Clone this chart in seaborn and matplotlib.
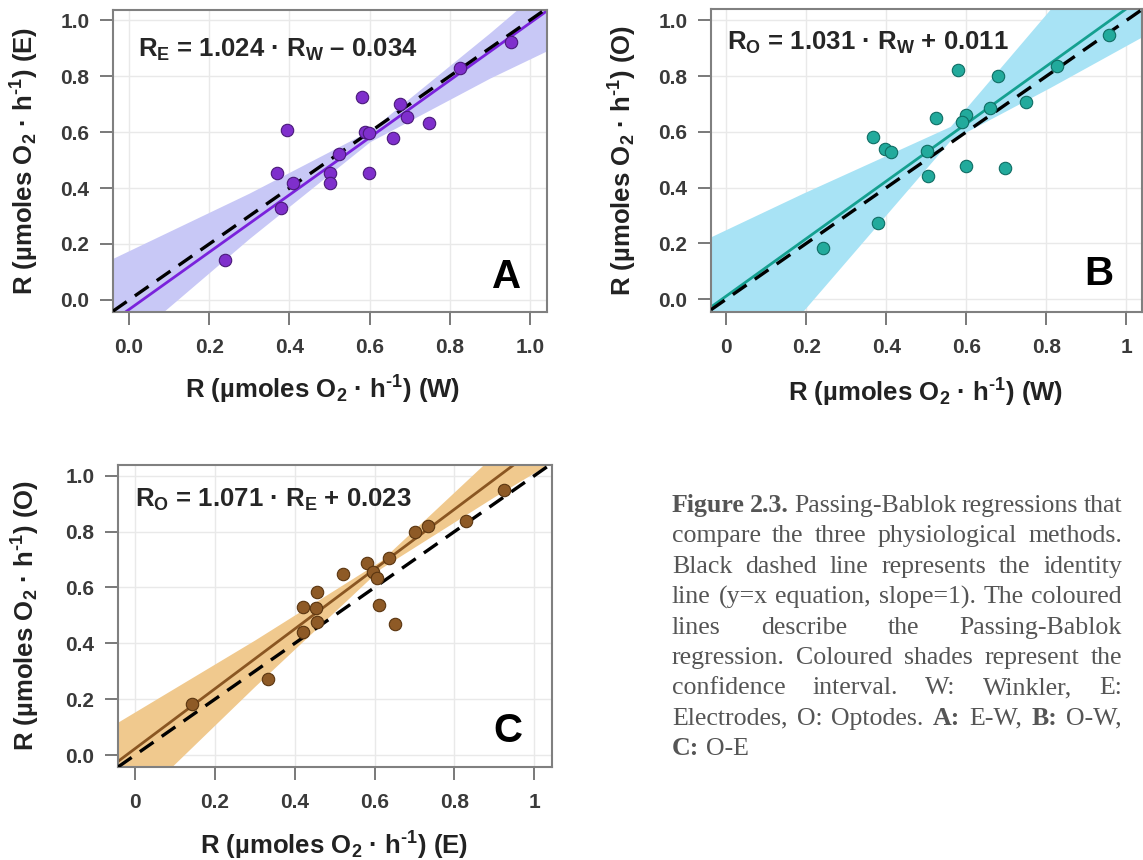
import numpy as np
import pandas as pd
import matplotlib
matplotlib.use("Agg")
import matplotlib.pyplot as plt
import seaborn as sns
from matplotlib import font_manager, ft2font

# ---------------- data ----------------
# Panel A: E vs W
A_w = [0.953, 0.824, 0.580, 0.675, 0.693, 0.748, 0.394, 0.588, 0.599, 0.657,
       0.524, 0.369, 0.501, 0.599, 0.408, 0.502, 0.378, 0.239]
A_e = [0.923, 0.827, 0.726, 0.700, 0.652, 0.631, 0.607, 0.601, 0.595, 0.580,
       0.521, 0.455, 0.452, 0.455, 0.419, 0.419, 0.330, 0.143]
A_slope, A_intercept = 1.024, -0.034
A_band_x = [-0.05, 0.30, 0.60, 0.90, 1.05]
A_band_lo = [-0.208, 0.220, 0.565, 0.793, 0.896]
A_band_hi = [0.142, 0.382, 0.605, 0.955, 1.138]

# Panel B: O vs W
B_w = [0.956, 0.827, 0.578, 0.678, 0.750, 0.658, 0.525, 0.598, 0.589, 0.368,
       0.396, 0.412, 0.502, 0.598, 0.696, 0.503, 0.379, 0.241]
B_o = [0.949, 0.837, 0.823, 0.799, 0.707, 0.687, 0.649, 0.659, 0.635, 0.583,
       0.539, 0.529, 0.532, 0.478, 0.470, 0.443, 0.272, 0.184]
B_slope, B_intercept = 1.031, 0.011
B_band_x = [-0.05, 0.19, 0.56, 0.81, 1.05]
B_band_lo = [-0.46, -0.046, 0.570, 0.760, 0.950]
B_band_hi = [0.216, 0.379, 0.620, 1.041, 1.460]

# Panel C: O vs E
C_e = [0.925, 0.830, 0.702, 0.733, 0.635, 0.581, 0.522, 0.597, 0.606, 0.455,
       0.420, 0.454, 0.610, 0.457, 0.652, 0.422, 0.334, 0.144]
C_o = [0.949, 0.838, 0.800, 0.821, 0.704, 0.686, 0.648, 0.656, 0.635, 0.583,
       0.531, 0.527, 0.537, 0.477, 0.469, 0.441, 0.272, 0.185]
C_slope, C_intercept = 1.071, 0.023
C_band_x = [-0.05, 0.30, 0.615, 0.90, 1.05]
C_band_lo = [-0.238, 0.246, 0.668, 0.925, 1.054]
C_band_hi = [0.112, 0.412, 0.695, 1.076, 1.283]

tick_values = [0.0, 0.2, 0.4, 0.6, 0.8, 1.0]
ticklabels_dec = ["0.0", "0.2", "0.4", "0.6", "0.8", "1.0"]
ticklabels_int = ["0", "0.2", "0.4", "0.6", "0.8", "1"]

eq_A = r"R$_\mathbf{E}$ = 1.024 · R$_\mathbf{W}$ – 0.034"
eq_B = r"R$_\mathbf{O}$ = 1.031 · R$_\mathbf{W}$ + 0.011"
eq_C = r"R$_\mathbf{O}$ = 1.071 · R$_\mathbf{E}$ + 0.023"

caption_lines = [
    "**Figure **2.3. Passing-Bablok regressions that",
    "compare the three physiological methods.",
    "Black dashed line represents the identity",
    "line (y=x equation, slope=1). The coloured",
    "lines describe the Passing-Bablok",
    "regression. Coloured shades represent the",
    "confidence interval. W: Winkler, E:",
    "Electrodes, O: Optodes. **A: E-W, **B: O-W,",
    "**C: O-E",
]

# ---------------- style ----------------
sns.set_theme(style="white")
plt.rcParams["font.family"] = ["Liberation Sans", "DejaVu Sans"]
plt.rcParams["mathtext.fontset"] = "custom"
plt.rcParams["mathtext.rm"] = "Liberation Sans:bold"
plt.rcParams["mathtext.bf"] = "Liberation Sans:bold"
plt.rcParams["mathtext.it"] = "Liberation Sans:bold"

# short hyphen for the superscript "-1" (mathtext would turn "-" into a wide minus)
_fp = font_manager.FontProperties(family="Liberation Sans", weight="bold")
_cmap = ft2font.FT2Font(font_manager.findfont(_fp)).get_charmap()
_hy = "\u2010" if 0x2010 in _cmap else ("\u2011" if 0x2011 in _cmap else "-")


def unit_label(tag):
    return r"R (µmoles O$_\mathbf{2}$ · h$^\mathbf{" + _hy + r"1}$) (" + tag + ")"


label_W = unit_label("W")
label_E = unit_label("E")
label_O = unit_label("O")

W, H = 1143, 860
fig = plt.figure(figsize=(W / 100, H / 100), dpi=100)
fig.patch.set_facecolor("white")


def rect(l, r, t, b):
    return [l / W, 1 - b / H, (r - l) / W, (b - t) / H]


def panel(r, xlim, ylim, x, y, bx, blo, bhi, slope, intercept,
          c_pt, c_edge, c_line, c_band, xtl, ytl, xlabel, ylabel, eq, letter,
          eq_xy, letter_xy, xlab_xy, ylab_x):
    ax = fig.add_axes(r)
    ax.set_xlim(*xlim)
    ax.set_ylim(*ylim)
    ax.grid(True, color="#e9e9e9", lw=1.0, zorder=0)
    ax.set_axisbelow(True)
    ax.fill_between(bx, blo, bhi, color=c_band, lw=0, zorder=1)
    xs = np.array(xlim)
    sns.lineplot(x=xs, y=slope * xs + intercept, color=c_line, lw=2.0, ax=ax, zorder=2)
    ax.axline((0, 0), slope=1, color="black", lw=2.4, dashes=(5, 3), zorder=3)
    df = pd.DataFrame({"x": x, "y": y})
    sns.scatterplot(data=df, x="x", y="y", color=c_pt, edgecolor=c_edge, linewidth=0.8,
                    s=80, ax=ax, zorder=4)
    ax.set_xticks(tick_values)
    ax.set_xticklabels(xtl)
    ax.set_yticks(tick_values)
    ax.set_yticklabels(ytl)
    ax.tick_params(axis="both", which="major", length=9.5, width=1.1, color="#555555",
                   labelsize=15, labelcolor="#3a3a3a", direction="out", bottom=True, left=True)
    ax.tick_params(axis="x", pad=9)
    ax.tick_params(axis="y", pad=7.5)
    for lab in ax.get_xticklabels() + ax.get_yticklabels():
        lab.set_fontweight("bold")
    for s in ax.spines.values():
        s.set_color("#808080")
        s.set_linewidth(1.5)
    ax.set_xlabel(xlabel, fontsize=18.5, fontweight="bold", color="#222222")
    ax.set_ylabel(ylabel, fontsize=18.5, fontweight="bold", color="#222222")
    ax.xaxis.set_label_coords(*xlab_xy)
    ax.xaxis.label.set_va("center")
    ax.yaxis.set_label_coords(ylab_x, 0.5)
    ax.yaxis.label.set_va("center")
    ax.text(eq_xy[0], eq_xy[1], eq, transform=ax.transAxes, fontsize=18.5,
            fontweight="bold", color="#262626", ha="left", va="center")
    ax.text(letter_xy[0], letter_xy[1], letter, transform=ax.transAxes, fontsize=29,
            fontweight="bold", color="black", ha="right", va="baseline")
    return ax


panel(rect(113, 547, 10, 312), (-0.040, 1.042), (-0.043, 1.036), A_w, A_e,
      A_band_x, A_band_lo, A_band_hi, A_slope, A_intercept,
      "#7f2fcc", "#4a1a7a", "#7a22dc", "#c8c8f6",
      ticklabels_dec, ticklabels_dec, label_W, label_E, eq_A, "A",
      (0.058, 0.868), (0.940, 0.079), (0.483, -0.258), -0.203)

panel(rect(711, 1142, 9, 312), (-0.038, 1.039), (-0.046, 1.041), B_w, B_o,
      B_band_x, B_band_lo, B_band_hi, B_slope, B_intercept,
      "#22aa9c", "#0f6d64", "#14a090", "#a8e3f5",
      ticklabels_int, ticklabels_dec, label_W, label_O, eq_B, "B",
      (0.037, 0.888), (0.933, 0.089), (0.498, -0.267), -0.204)

panel(rect(118, 552, 465, 767), (-0.042, 1.044), (-0.042, 1.038), C_e, C_o,
      C_band_x, C_band_lo, C_band_hi, C_slope, C_intercept,
      "#8e5a26", "#5a3510", "#8a5622", "#f0c98e",
      ticklabels_int, ticklabels_dec, label_E, label_O, eq_C, "C",
      (0.039, 0.884), (0.931, 0.083), (0.498, -0.262), -0.212)

# ---------------- justified caption ----------------
cap_x0, cap_x1 = 672, 1122
cap_y0, cap_dy = 512, 30.4
cap_color = "#555555"
fig.canvas.draw()
renderer = fig.canvas.get_renderer()


def tokens(i, line):
    items = []
    for t in line.split(" "):
        b = False
        if t.startswith("**"):
            t = t[2:]
            b = True
        if t == "":
            continue
        items.append((t, b))
    if i == 0:
        items = [(t, True) if t in ("Figure", "2.3.") else (t, b) for t, b in items]
    return items


def make_line(items, fs):
    arts, ws = [], []
    for t, b in items:
        a = fig.text(0, 0, t, fontsize=fs, family=["Liberation Serif", "DejaVu Serif"],
                     fontweight="bold" if b else "normal", color=cap_color,
                     ha="left", va="baseline")
        ws.append(a.get_window_extent(renderer).width)
        arts.append(a)
    return arts, ws


cap_fs = 18.8
while True:
    ok = True
    for i, line in enumerate(caption_lines[:-1]):
        arts, ws = make_line(tokens(i, line), cap_fs)
        for a in arts:
            a.remove()
        min_gap = cap_fs * 100 / 72 * 0.2
        if sum(ws) + min_gap * (len(ws) - 1) > cap_x1 - cap_x0:
            ok = False
            break
    if ok or cap_fs < 12:
        break
    cap_fs -= 0.2

for i, line in enumerate(caption_lines):
    items = tokens(i, line)
    arts, ws = make_line(items, cap_fs)
    n = len(items)
    space = cap_fs * 100 / 72 * 0.25
    if i < len(caption_lines) - 1 and n > 1:
        gap = (cap_x1 - cap_x0 - sum(ws)) / (n - 1)
    else:
        gap = space
    x = cap_x0
    yb = cap_y0 + i * cap_dy
    for a, wdt in zip(arts, ws):
        a.set_position((x / W, 1 - yb / H))
        x += wdt + gap

fig.savefig("out.png", dpi=100, facecolor="white")
